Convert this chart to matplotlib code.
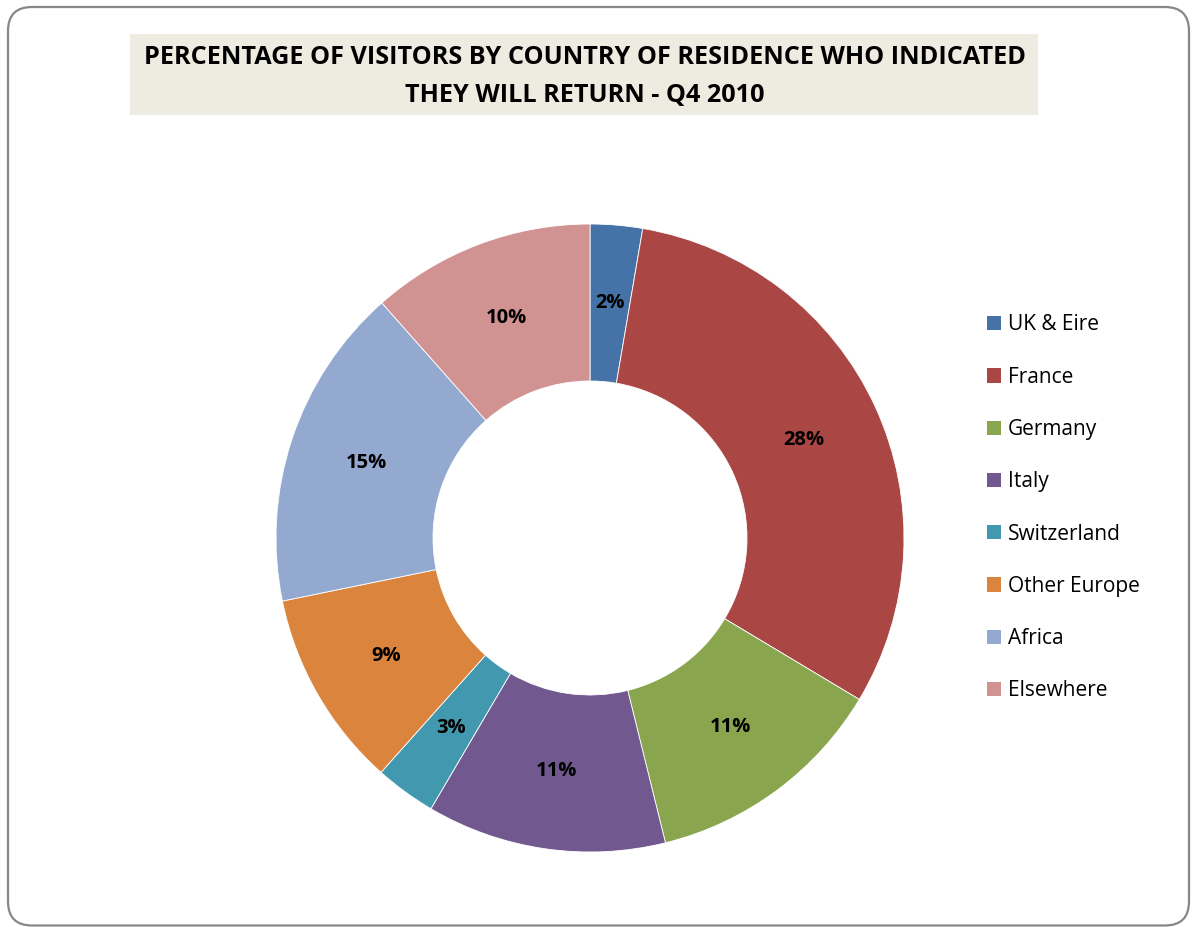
import matplotlib
matplotlib.use("Agg")
import matplotlib.pyplot as plt
from matplotlib.patches import FancyBboxPatch, Rectangle, Patch
from matplotlib.transforms import IdentityTransform

# Share of visitors (by country of residence) who said they will return, Q4 2010
countries = ["UK & Eire", "France", "Germany", "Italy", "Switzerland",
             "Other Europe", "Africa", "Elsewhere"]
return_pct = [2.4, 27.6, 11.2, 11.0, 2.8, 9.1, 14.9, 10.3]
colors = ["#4572A7", "#AA4643", "#89A54E", "#71588F", "#4198AF",
          "#DB843D", "#93A9CF", "#D19392"]
title_lines = ["PERCENTAGE OF VISITORS BY COUNTRY OF RESIDENCE WHO INDICATED",
               "THEY WILL RETURN - Q4 2010"]

FONT = "Open Sans"
W, H = 1194, 927
fig = plt.figure(figsize=(W / 100, H / 100), dpi=100)
fig.patch.set_facecolor("white")

# rounded outer frame (pixel coordinates)
frame = FancyBboxPatch((8, 1.5), 1181, 918.5,
                       boxstyle="round,pad=0,rounding_size=24",
                       transform=IdentityTransform(), facecolor="none",
                       edgecolor="#878787", linewidth=1.6)
fig.patches.append(frame)

# title band
band = Rectangle((130, H - 115), 908, 81, transform=IdentityTransform(),
                 facecolor="#EEECE1", edgecolor="none")
fig.patches.append(band)
fig.text(585 / W, 1 - 57 / H, title_lines[0], ha="center", va="center",
         fontsize=18.2, fontweight="bold", family=FONT, color="black")
fig.text(585 / W, 1 - 95 / H, title_lines[1], ha="center", va="center",
         fontsize=18.2, fontweight="bold", family=FONT, color="black")

# doughnut
cx, cy, r = 590, 538, 314
ax = fig.add_axes([(cx - r) / W, 1 - (cy + r) / H, 2 * r / W, 2 * r / H])
total = sum(return_pct)
wedges, _, autotexts = ax.pie(
    return_pct, colors=colors, startangle=90, counterclock=False,
    radius=1.0, autopct=lambda p: f"{p * total / 100:.0f}%",
    pctdistance=0.75,
    wedgeprops=dict(width=0.5, edgecolor="white", linewidth=0.6),
    textprops=dict(fontsize=14.5, fontweight="bold", family=FONT, color="black"))
ax.set_xlim(-1, 1)
ax.set_ylim(-1, 1)
ax.set_aspect("auto")
ax.axis("off")

# legend
handles = [Patch(facecolor=c, edgecolor="none") for c in colors]
fig.legend(handles, countries, loc="upper left",
           bbox_to_anchor=(987 / W, 1 - 314.5 / H), frameon=False,
           prop=dict(family=FONT, size=15), handlelength=0.68,
           handleheight=0.68, handletextpad=0.32, labelspacing=1.5,
           borderpad=0, borderaxespad=0)

fig.savefig("out.png", dpi=100)
